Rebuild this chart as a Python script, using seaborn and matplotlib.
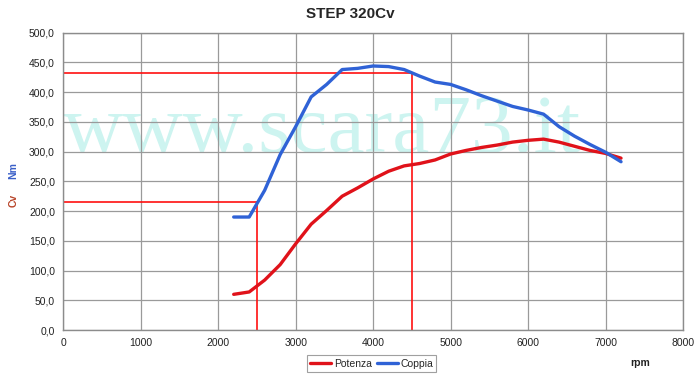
import matplotlib
matplotlib.use("Agg")
import matplotlib.pyplot as plt
import seaborn as sns
import pandas as pd
from matplotlib.ticker import FuncFormatter, MultipleLocator
from matplotlib.lines import Line2D

rpm = [2200, 2400, 2600, 2800, 3000, 3200, 3400, 3600, 3800, 4000, 4200, 4400, 4600,
       4800, 5000, 5200, 5400, 5600, 5800, 6000, 6200, 6400, 6600, 6800, 7000, 7200]
potenza = [60, 64, 84, 110, 145, 178, 201, 225, 239, 254, 267, 276, 280,
           286, 296, 302, 307, 311, 316, 319, 321, 316, 309, 302, 297, 289]
coppia = [190, 190, 235, 295, 342, 392, 413, 438, 440, 444, 443, 438, 427,
          417, 413, 404, 394, 385, 376, 370, 363, 342, 326, 312, 299, 283]
series_names = ["Potenza", "Coppia"]
ref_rpm = [2500, 4500]
ref_val = [215, 433]

df = pd.concat([
    pd.DataFrame({"rpm": rpm, "val": potenza, "serie": series_names[0]}),
    pd.DataFrame({"rpm": rpm, "val": coppia, "serie": series_names[1]}),
])

sns.set_theme(style="whitegrid")
plt.rcParams['font.family'] = ['Liberation Sans', 'DejaVu Sans']

fig = plt.figure(figsize=(7.0, 3.74), dpi=100)
ax = fig.add_axes([0.0904, 0.1176, 0.8853, 0.795])

# watermark
ax.text(0.418, 0.60, "www.scara73.it", transform=ax.transAxes, ha="center", va="baseline",
        fontsize=60, family="Liberation Serif", color="#cdf4f0", zorder=0.5)

palette = {"Potenza": "#e0121a", "Coppia": "#2f62d6"}
sns.lineplot(data=df, x="rpm", y="val", hue="serie", palette=palette, linewidth=2.4,
             ax=ax, legend=False, zorder=3)

for xr, yr in zip(ref_rpm, ref_val):
    ax.plot([0, xr], [yr, yr], color="#ff1010", lw=1.2, zorder=2.5)
    ax.plot([xr, xr], [0, yr], color="#ff1010", lw=1.2, zorder=2.5)

ax.set_xlim(0, 8000)
ax.set_ylim(0, 500)
ax.xaxis.set_major_locator(MultipleLocator(1000))
ax.yaxis.set_major_locator(MultipleLocator(50))
ax.yaxis.set_major_formatter(FuncFormatter(lambda v, p: f"{v:.1f}".replace(".", ",")))
ax.grid(True, color="#9a9a9a", lw=0.9)
ax.set_facecolor("white")
for s in ax.spines.values():
    s.set_color("#8c8c8c")
    s.set_linewidth(1.0)
ax.tick_params(axis="both", labelsize=7.5, colors="#222222", length=0, pad=6)
ax.set_xlabel("")
ax.set_ylabel("")

fig.text(0.5, 0.962, "STEP 320Cv", ha="center", va="center", fontsize=11, fontweight="bold")
fig.text(0.915, 0.029, "rpm", ha="center", va="center", fontsize=7.5, fontweight="bold", color="#222222")
fig.text(0.019, 0.545, "Nm", ha="center", va="center", rotation=90, fontsize=7.5,
         fontweight="bold", color="#3a5fc8")
fig.text(0.019, 0.465, "Cv", ha="center", va="center", rotation=90, fontsize=7.5,
         fontweight="bold", color="#b8452a")

handles = [Line2D([], [], color=palette[n], lw=2.4) for n in series_names]
leg = fig.legend(handles, series_names, loc="center", bbox_to_anchor=(0.531, 0.028),
                 ncol=2, fontsize=7.5, frameon=True, fancybox=False, handlelength=2.0,
                 handletextpad=0.25, columnspacing=0.5, borderpad=0.3)
leg.get_frame().set_edgecolor("#888888")
leg.get_frame().set_linewidth(0.8)

fig.savefig("out.png", dpi=100)
